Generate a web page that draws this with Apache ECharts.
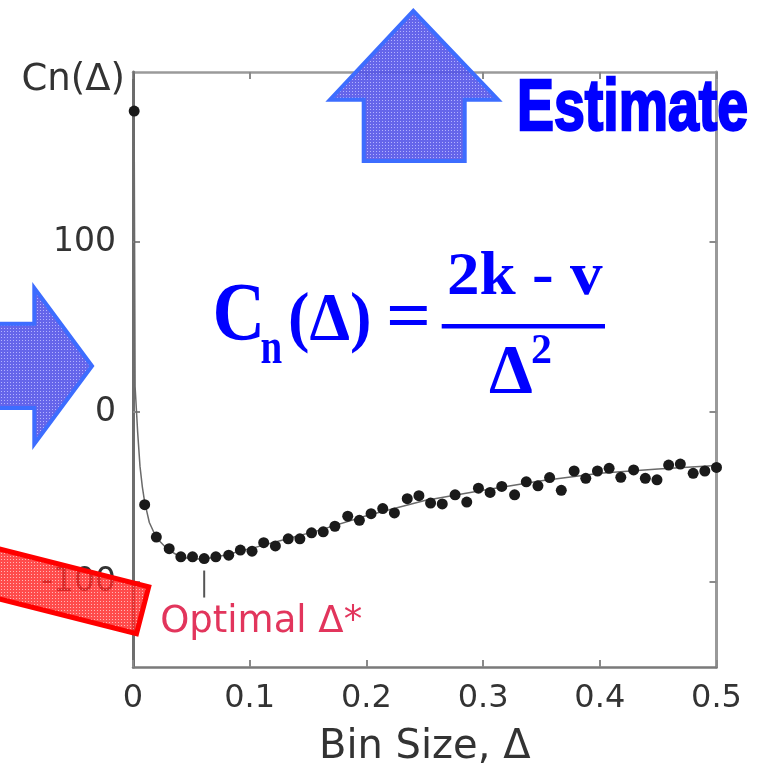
<!DOCTYPE html>
<html>
<head>
<meta charset="utf-8">
<script src="https://cdn.jsdelivr.net/npm/echarts@6/dist/echarts.min.js"></script>
<style>
  html, body { margin: 0; padding: 0; background: #fff; }
  #chart { width: 760px; height: 773px; }
</style>
</head>
<body>
<div id="chart"></div>
<script>
// Cost function Cn(Δ) evaluated at each bin size
const binSize = [0.001, 0.010, 0.020, 0.031, 0.041, 0.051, 0.061, 0.071, 0.082, 0.092,
                 0.102, 0.112, 0.122, 0.133, 0.143, 0.153, 0.163, 0.173, 0.184, 0.194,
                 0.204, 0.214, 0.224, 0.235, 0.245, 0.255, 0.265, 0.276, 0.286, 0.296,
                 0.306, 0.316, 0.327, 0.337, 0.347, 0.357, 0.367, 0.378, 0.388, 0.398,
                 0.408, 0.418, 0.429, 0.439, 0.449, 0.459, 0.469, 0.480, 0.490, 0.500];
const cost = [177, -54.5, -73.6, -80.4, -85.2, -85.2, -86.2, -85.2, -84.2, -81.2,
              -81.9, -76.9, -78.8, -74.6, -74.6, -71.1, -70.5, -67.2, -61.3, -63.7,
              -59.8, -56.8, -59.4, -51.0, -49.2, -53.6, -54.1, -48.7, -53.0, -44.8,
              -47.3, -43.8, -48.7, -41.1, -43.4, -38.6, -46.1, -34.7, -39.0, -34.7,
              -33.1, -38.4, -34.1, -39.0, -39.9, -31.2, -30.6, -36.1, -34.7, -32.6];

// Smooth expected-cost curve
const fitBin = [0.0008, 0.0018, 0.004, 0.006, 0.008, 0.010, 0.014, 0.020, 0.030, 0.040,
                0.050, 0.060, 0.070, 0.080, 0.100, 0.130, 0.160, 0.200, 0.250, 0.300,
                0.350, 0.400, 0.450, 0.500];
const fitCost = [205, 15, -12, -32, -44, -53, -65, -74, -81, -85,
                 -86.5, -86.5, -85.5, -84, -80.5, -75, -69.5, -61, -52, -46,
                 -40.5, -36, -33.5, -31.5];

const yTicks = [-100, 0, 100];

const points = binSize.map((b, i) => [b, cost[i]]);
const fitLine = fitBin.map((b, i) => [b, fitCost[i]]);

const chart = echarts.init(document.getElementById('chart'), null, { renderer: 'canvas' });

const labelFont = { fontFamily: 'DejaVu Sans', color: '#333333' };
const tickStyle = { color: '#8a8a8a', width: 2 };

chart.setOption({
  animation: false,
  grid: { left: 133, top: 72, right: 43.5, bottom: 101 },
  xAxis: [
    {
      type: 'value', min: 0, max: 0.5, interval: 0.1, position: 'bottom',
      axisLine: { onZero: false, lineStyle: { color: '#7a7a7a', width: 2.5 } },
      axisTick: { inside: true, length: 7, lineStyle: tickStyle },
      axisLabel: Object.assign({ fontSize: 32, margin: 16 }, labelFont),
      splitLine: { show: false },
      name: 'Bin Size, Δ', nameLocation: 'middle', nameGap: 61,
      nameTextStyle: Object.assign({ fontSize: 40 }, labelFont)
    },
    {
      type: 'value', min: 0, max: 0.5, interval: 0.1, position: 'top',
      axisLine: { onZero: false, lineStyle: { color: '#9a9a9a', width: 2.5 } },
      axisTick: { inside: true, length: 7, lineStyle: tickStyle },
      axisLabel: { show: false },
      splitLine: { show: false }
    }
  ],
  yAxis: [
    {
      type: 'value', min: -150, max: 200, position: 'left',
      axisLine: { show: true, onZero: false, lineStyle: { color: '#6e6e6e', width: 3 } },
      axisTick: { show: true, inside: true, length: 7, customValues: yTicks, lineStyle: tickStyle },
      axisLabel: Object.assign({ fontSize: 33, margin: 17, customValues: yTicks }, labelFont),
      splitLine: { show: false },
      name: 'Cn(Δ)', nameLocation: 'end', nameGap: -8,
      nameTextStyle: Object.assign({ fontSize: 37, align: 'right', verticalAlign: 'middle', padding: [0, 8, 0, 0] }, labelFont)
    },
    {
      type: 'value', min: -150, max: 200, position: 'right',
      axisLine: { show: true, onZero: false, lineStyle: { color: '#9a9a9a', width: 3 } },
      axisTick: { show: true, inside: true, length: 7, customValues: yTicks, lineStyle: tickStyle },
      axisLabel: { show: false },
      splitLine: { show: false }
    }
  ],
  series: [
    {
      type: 'line', xAxisIndex: 0, yAxisIndex: 0, data: fitLine,
      symbol: 'none', showSymbol: false, silent: true,
      lineStyle: { color: '#6a6a6a', width: 1.5 }, z: 2
    },
    {
      type: 'scatter', xAxisIndex: 0, yAxisIndex: 0, data: points,
      symbolSize: 11, itemStyle: { color: '#1a1a1a', opacity: 1 }, z: 3
    }
  ]
});

// Fine dotted fill used for the arrows and the banner
function dotted(base, dot) {
  const c = document.createElement('canvas');
  c.width = 3; c.height = 3;
  const g = c.getContext('2d');
  g.fillStyle = base; g.fillRect(0, 0, 3, 3);
  g.clearRect(1, 1, 1, 1);
  g.fillStyle = dot; g.fillRect(1, 1, 1, 1);
  return { image: c, repeat: 'repeat' };
}
const blueFill = dotted('rgba(84,84,232,0.9)', 'rgba(170,170,255,0.9)');
const redFill = dotted('rgba(255,36,36,0.82)', 'rgba(255,170,170,0.85)');

// Locate the optimal bin size (minimum cost)
let best = 0;
cost.forEach((v, i) => { if (v < cost[best]) best = i; });
const [ox, oy] = chart.convertToPixel({ gridIndex: 0 }, [binSize[best], cost[best]]);

const blue = '#0000ff';
const serif = 'Liberation Serif, Times New Roman, serif';

chart.setOption({
  graphic: [
    // optimum marker
    { type: 'line', z: 50, shape: { x1: ox, y1: oy + 12, x2: ox, y2: oy + 39 },
      style: { stroke: '#555', lineWidth: 2 } },
    { type: 'text', z: 50, x: ox - 44, y: oy + 64,
      style: { text: 'Optimal Δ*', font: '37px "DejaVu Sans"', fill: '#e2355c',
               textAlign: 'left', textVerticalAlign: 'middle' } },

    // up arrow
    { type: 'polygon', z: 60,
      shape: { points: [[413.3, 11], [498, 99.7], [464.7, 99.7], [464.7, 161], [363.7, 161], [363.7, 99.7], [330, 99.7]] },
      style: { fill: blueFill, stroke: '#3d6dff', lineWidth: 4, lineJoin: 'miter' } },
    // right arrow
    { type: 'polygon', z: 60,
      shape: { points: [[-10, 323.7], [34.3, 323.7], [34.3, 288], [92, 366], [34.3, 444], [34.3, 408], [-10, 408]] },
      style: { fill: blueFill, stroke: '#3d6dff', lineWidth: 4, lineJoin: 'miter' } },
    // tilted banner
    { type: 'polygon', z: 60,
      shape: { points: [[-64.6, 532.8], [148.7, 586.8], [136.5, 633.7], [-76.8, 579.7]] },
      style: { fill: redFill, stroke: '#ff0000', lineWidth: 5, lineJoin: 'miter' } },

    // "Estimate"
    { type: 'text', z: 70, x: 517, y: 110, scaleX: 0.77,
      style: { text: 'Estimate', font: 'bold 72px "Liberation Sans", Arial, sans-serif', fill: blue,
               stroke: blue, lineWidth: 2.5, textAlign: 'left', textVerticalAlign: 'middle' } },

    // Cn(Δ) = (2k - v) / Δ²
    { type: 'text', z: 70, x: 212.5, y: 318.3, scaleX: 0.89,
      style: { text: 'C', font: 'bold 82px ' + serif, fill: blue, textAlign: 'left', textVerticalAlign: 'middle' } },
    { type: 'text', z: 70, x: 260.5, y: 349.8, scaleX: 0.78,
      style: { text: 'n', font: 'bold 50px ' + serif, fill: blue, textAlign: 'left', textVerticalAlign: 'middle' } },
    { type: 'text', z: 70, x: 288, y: 321.5, scaleX: 0.95,
      style: { text: '(Δ)', font: 'bold 68px ' + serif, fill: blue, textAlign: 'left', textVerticalAlign: 'middle' } },
    { type: 'text', z: 70, x: 386, y: 320, scaleX: 1.1,
      style: { text: '=', font: 'bold 72px ' + serif, fill: blue, textAlign: 'left', textVerticalAlign: 'middle' } },
    { type: 'rect', z: 70, shape: { x: 441.7, y: 324, width: 163.3, height: 4.5 }, style: { fill: blue } },
    { type: 'text', z: 70, x: 447, y: 277.5, scaleX: 1.05,
      style: { text: '2k - v', font: 'bold 62px ' + serif, fill: blue, textAlign: 'left', textVerticalAlign: 'middle' } },
    { type: 'text', z: 70, x: 489, y: 375,
      style: { text: 'Δ', font: 'bold 70px ' + serif, fill: blue, textAlign: 'left', textVerticalAlign: 'middle' } },
    { type: 'text', z: 70, x: 531, y: 352.5,
      style: { text: '2', font: 'bold 42px ' + serif, fill: blue, textAlign: 'left', textVerticalAlign: 'middle' } }
  ]
});
</script>
</body>
</html>
